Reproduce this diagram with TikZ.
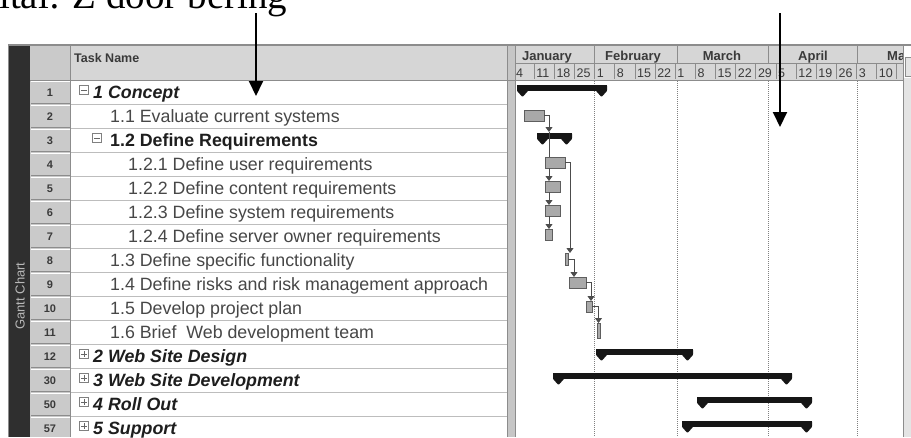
\documentclass[tikz,border=0pt]{standalone}
\usepackage{fontspec}
\setmainfont{Liberation Sans}
\newfontfamily\captionserif{Liberation Serif}
\usetikzlibrary{arrows.meta}

\definecolor{framegrey}{HTML}{8C8C8C}
\definecolor{bandgrey}{HTML}{2F2F2F}
\definecolor{bandtext}{HTML}{B8B8B8}
\definecolor{numfill}{HTML}{CACACA}
\definecolor{headfill}{HTML}{D6D6D6}
\definecolor{gridgrey}{HTML}{BDBDBD}
\definecolor{tasktext}{HTML}{474747}
\definecolor{phasetext}{HTML}{1E1E1E}
\definecolor{numtext}{HTML}{3A3A3A}
\definecolor{barfill}{HTML}{A9A9A9}
\definecolor{bardraw}{HTML}{5E5E5E}
\definecolor{linkgrey}{HTML}{4C4C4C}
\definecolor{sumblack}{HTML}{161616}
\definecolor{stripgrey}{HTML}{E4E4E4}
\definecolor{splitgrey}{HTML}{C6C6C6}

% summary bar: node name, start x, end x, row centre y
\newcommand\summarytask[4]{%
  \node[sumbarbody,minimum width={#3-#2}] (#1) at ({(#2+#3)/2},{#4-4}) {};
  \fill[sumblack,rounded corners=0.8pt] (#1.north west) -- ++(11,0) -- ++(0,6) -- ++(-5.5,6) -- ++(-5.5,-6) -- cycle;
  \fill[sumblack,rounded corners=0.8pt] (#1.north east) -- ++(-11,0) -- ++(0,6) -- ++(5.5,6) -- ++(5.5,-6) -- cycle;
}

\begin{document}
\begin{tikzpicture}[x=1pt,y=-1pt,
  rownum/.style={font=\fontsize{11}{13}\selectfont\bfseries,text=numtext,anchor=base,inner sep=0pt},
  subtask/.style={font=\fontsize{17.8}{20}\selectfont,text=tasktext,anchor=base west,inner sep=0pt},
  phasetxt/.style={subtask,font=\fontsize{17.8}{20}\selectfont\bfseries\itshape,text=phasetext},
  grouptxt/.style={subtask,font=\fontsize{17.8}{20}\selectfont\bfseries,text=phasetext},
  expander/.style={draw=gray,fill=white,minimum size=8.5pt,inner sep=0pt,line width=0.6pt},
  signline/.style={draw=gray!80!black,line width=0.6pt},
  taskbox/.style={draw=bardraw,fill=barfill,line width=0.8pt,inner sep=0pt,outer sep=0pt},
  sumbarbody/.style={fill=sumblack,inner sep=0pt,outer sep=0pt,minimum height=6pt},
  linkline/.style={draw=linkgrey,line width=0.8pt},
  linkarrow/.style={linkline,-{Triangle[width=7pt,length=5pt]}},
  monthline/.style={draw=gray,line width=0.8pt,dash pattern=on 1pt off 1pt},
  hdrline/.style={draw=framegrey,line width=0.8pt},
  weeklabel/.style={font=\fontsize{12.5}{14}\selectfont,text=numtext,anchor=base west,inner sep=0pt},
  monthlabel/.style={font=\fontsize{13}{15}\selectfont\bfseries,text=numtext,anchor=base,inner sep=0pt},
  bigarrow/.style={draw=black,line width=2pt,-{Triangle[width=14pt,length=15pt]}}
]
\useasboundingbox (0,0) rectangle (911,437);
\clip (0,0) rectangle (911,437);

% ---------- panels ----------
\fill[white] (0,0) rectangle (911,437);
\fill[bandgrey] (9,46) rectangle (30,437);
\fill[numfill] (30,46) rectangle (70,437);
\fill[headfill] (70,46) rectangle (507,80);
\fill[splitgrey] (507,46) rectangle (515,437);
\fill[headfill] (515,46) rectangle (903,80);
\fill[stripgrey] (903,78) rectangle (911,437);
\filldraw[fill=stripgrey,draw=framegrey,line width=0.6pt] (905,57) rectangle (914,76);

% row separators
\foreach \k in {0,...,14} {
  \draw[gridgrey,line width=0.8pt] (70,{104+24*\k}) -- (507,{104+24*\k});
  \draw[white,line width=0.8pt] (31,{81+24*\k}) -- (70,{81+24*\k});
  \draw[framegrey,line width=0.6pt] (31,{103.5+24*\k}) -- (70,{103.5+24*\k});
}

% column borders and frame
\draw[framegrey,line width=0.8pt] (30,80) -- (903,80);
\draw[framegrey,line width=0.8pt] (70.5,46) -- (70.5,437);
\draw[framegrey,line width=0.8pt] (507,46) -- (507,437);
\draw[framegrey,line width=0.8pt] (515,46) -- (515,437);
\draw[framegrey,line width=0.8pt] (903,46) -- (903,437);
\draw[framegrey,line width=2.4pt] (8,45) -- (911,45);
\draw[framegrey,line width=1.5pt] (8.5,45) -- (8.5,437);

% ---------- left table ----------
\node[rotate=90,font=\fontsize{13}{15}\selectfont,text=bandtext,inner sep=0pt] (sidebar) at (20,296) {Gantt Chart};
\node[font=\fontsize{12.5}{14}\selectfont\bfseries,text=numtext,anchor=base west,inner sep=0pt] (taskhead) at (74,62) {Task Name};

\foreach \k/\n in {0/1,1/2,2/3,3/4,4/5,5/6,6/7,7/8,8/9,9/10,10/11,11/12,12/30,13/50,14/57}
  \node[rownum] (n\n) at (50,{96+24*\k}) {\n};

\node[phasetxt] (t1)  at (93,98)  {1 Concept};
\node[subtask]  (t2)  at (110,122) {1.1 Evaluate current systems};
\node[grouptxt] (t3)  at (110,146) {1.2 Define Requirements};
\node[subtask]  (t4)  at (128,170) {1.2.1 Define user requirements};
\node[subtask]  (t5)  at (128,194) {1.2.2 Define content requirements};
\node[subtask]  (t6)  at (128,218) {1.2.3 Define system requirements};
\node[subtask]  (t7)  at (128,242) {1.2.4 Define server owner requirements};
\node[subtask]  (t8)  at (110,266) {1.3 Define specific functionality};
\node[subtask]  (t9)  at (110,290) {1.4 Define risks and risk management approach};
\node[subtask]  (t10) at (110,314) {1.5 Develop project plan};
\node[subtask]  (t11) at (110,338) {1.6 Brief~ Web development team};
\node[phasetxt] (t12) at (93,362) {2 Web Site Design};
\node[phasetxt] (t30) at (93,386) {3 Web Site Development};
\node[phasetxt] (t50) at (93,410) {4 Roll Out};
\node[phasetxt] (t57) at (93,434) {5 Support};

% outline expanders
\node[expander] (e1) at (84,90) {};
\draw[signline] ([xshift=2pt]e1.west) -- ([xshift=-2pt]e1.east);
\node[expander] (e3) at (97,138) {};
\draw[signline] ([xshift=2pt]e3.west) -- ([xshift=-2pt]e3.east);
\foreach \r/\y in {12/354,30/378,50/402,57/426} {
  \node[expander] (e\r) at (84,\y) {};
  \draw[signline] ([xshift=2pt]e\r.west) -- ([xshift=-2pt]e\r.east);
  \draw[signline] ([yshift=2pt]e\r.south) -- ([yshift=-2pt]e\r.north);
}

% ---------- timescale ----------
\draw[hdrline] (515,63.5) -- (903,63.5);
\foreach \x in {594,677,768,857} \draw[hdrline] (\x,46) -- (\x,63.5);
\foreach \k in {1,...,19} \draw[hdrline] ({514+20.15*\k},63.5) -- ({514+20.15*\k},79);
\foreach \k/\d in {0/4,1/11,2/18,3/25,4/1,5/8,6/15,7/22,8/1,9/8,10/15,11/22,12/29,13/5,14/12,15/19,16/26,17/3,18/10}
  \node[weeklabel] (w\k) at ({516+20.15*\k},77) {\d};
\node[monthlabel] (mjan) at (547,60) {January};
\node[monthlabel] (mfeb) at (633,60) {February};
\node[monthlabel] (mmar) at (722,60) {March};
\node[monthlabel] (mapr) at (813,60) {April};
\begin{scope}
  \clip (858,46) rectangle (902,63);
  \node[monthlabel,anchor=base west] (mmay) at (887,60) {May};
\end{scope}

% month boundaries
\foreach \x in {594,677,768,857} \draw[monthline] (\x,81) -- (\x,437);

% ---------- bars ----------
\summarytask{s1}{517}{607}{92}
\summarytask{s3}{537}{572}{140}
\summarytask{s12}{596}{693}{356}
\summarytask{s30}{553}{792}{380}
\summarytask{s50}{697}{812}{404}
\summarytask{s57}{682}{812}{428}

\node[taskbox,minimum width=20pt,minimum height=11pt] (b2)  at (534,115.5) {};
\node[taskbox,minimum width=20pt,minimum height=11pt] (b4)  at (555,162.5) {};
\node[taskbox,minimum width=15pt,minimum height=11pt] (b5)  at (552.5,186.5) {};
\node[taskbox,minimum width=15pt,minimum height=11pt] (b6)  at (552.5,210.5) {};
\node[taskbox,minimum width=7pt,minimum height=11pt]  (b7)  at (548.5,234.5) {};
\node[taskbox,minimum width=3pt,minimum height=12pt]  (b8)  at (566.5,259) {};
\node[taskbox,minimum width=17pt,minimum height=11pt] (b9)  at (577.5,282.5) {};
\node[taskbox,minimum width=6pt,minimum height=11pt]  (b10) at (589,306.5) {};
\node[taskbox,minimum width=3pt,minimum height=15pt]  (b11) at (598.5,330.5) {};

% ---------- dependencies ----------
\coordinate (j3) at (549,132);
\draw[linkarrow] (b2.east) -| (j3);
\draw[linkline] (j3) -- ([xshift=4pt]b4.north west);
\draw[linkarrow] ([xshift=4pt]b4.south west) -- ([xshift=4pt]b5.north west);
\draw[linkarrow] ([xshift=4pt]b5.south west) -- ([xshift=4pt]b6.north west);
\draw[linkarrow] ([xshift=4pt]b6.south west) -- ([xshift=4pt]b7.north west);
\draw[linkarrow] (b4.east) -| ([xshift=2pt]b8.north east);
\draw[linkarrow] (b8.east) -| ([xshift=5pt]b9.north west);
\draw[linkarrow] (b9.east) -| ([xshift=5pt]b10.north west);
\draw[linkarrow] (b10.east) -| (b11.north);

% ---------- pointers and caption ----------
\node[anchor=base west,font=\captionserif\fontsize{39}{41}\selectfont,inner sep=0pt] (caption) at (-1,8) {ital: Z door bering};
\coordinate (lp0) at (256,13);
\coordinate (lp1) at (256,96);
\coordinate (rp0) at (780,13);
\coordinate (rp1) at (780,127);
\draw[bigarrow] (lp0) -- (lp1);
\draw[bigarrow] (rp0) -- (rp1);
\end{tikzpicture}
\end{document}
